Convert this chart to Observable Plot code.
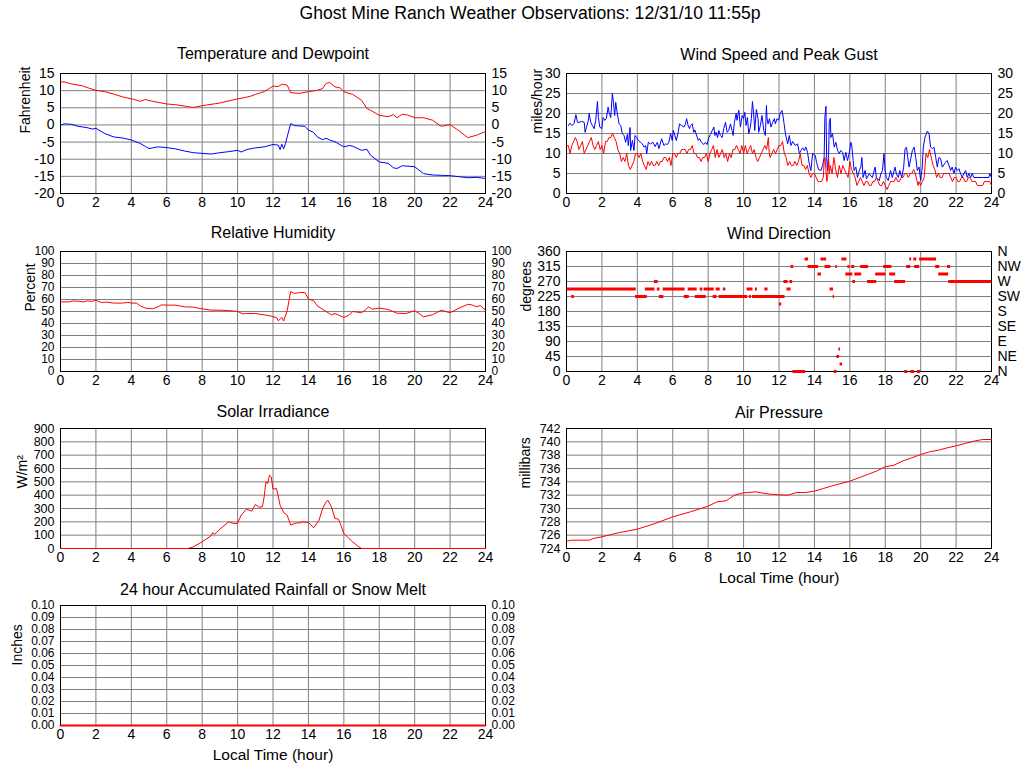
<!DOCTYPE html>
<html><head><meta charset="utf-8">
<script src="https://cdn.jsdelivr.net/npm/d3@7"></script>
<script src="https://cdn.jsdelivr.net/npm/@observablehq/plot@0.6"></script>
<style>
body{margin:0;background:#fff;font-family:"Liberation Sans",Arial,Helvetica,sans-serif;}
#page{position:relative;width:1024px;height:768px;overflow:hidden;background:#fff;}
#title{position:absolute;left:18px;width:1024px;top:5px;text-align:center;font-size:17.6px;line-height:17px;color:#000;}
.panel{position:absolute;}
</style></head><body>
<div id="page"><div id="title">Ghost Mine Ranch Weather Observations: 12/31/10 11:55p</div></div>
<script>
// ---------- data (hour, value) ----------
const hourTicks = [0,2,4,6,8,10,12,14,16,18,20,22,24];
const tempTicks = [-20,-15,-10,-5,0,5,10,15];
const speedTicks = [0,5,10,15,20,25,30];
const humTicks = [0,10,20,30,40,50,60,70,80,90,100];
const dirTicks = [0,45,90,135,180,225,270,315,360];
const dirTickLabels = ["N","NE","E","SE","S","SW","W","NW","N"];
const solarTicks = [0,100,200,300,400,500,600,700,800,900];
const pressTicks = [724,726,728,730,732,734,736,738,740,742];
const rainTicks = [0,0.01,0.02,0.03,0.04,0.05,0.06,0.07,0.08,0.09,0.10];

const temperature = [[0,12.6],[0.25,12.5],[0.5,12.1],[1,11.6],[1.25,11.4],[1.5,10.9],[2,10.1],[2.25,9.9],[2.5,9.7],[3,9.0],[3.25,8.6],[3.5,8.2],[3.75,7.9],[4,7.6],[4.25,7.3],[4.5,6.9],[4.8,7.4],[5,7.1],[5.5,6.6],[6,6.1],[6.25,6.0],[6.5,5.9],[6.75,5.7],[7,5.5],[7.25,5.3],[7.5,5.1],[8,5.6],[8.25,5.8],[8.5,6.0],[8.75,6.2],[9,6.4],[9.25,6.7],[9.5,7.0],[9.75,7.3],[10,7.6],[10.25,7.8],[10.5,8.1],[10.75,8.4],[11,8.9],[11.25,9.3],[11.5,9.7],[11.75,10.5],[12,11.3],[12.3,11.2],[12.5,11.9],[12.8,11.6],[13,9.4],[13.5,9.2],[14,9.7],[14.5,10.1],[14.8,10.6],[15,12.1],[15.2,12.4],[15.5,11.1],[15.8,10.8],[16,9.7],[16.5,8.9],[17,7.2],[17.3,4.8],[17.5,4.3],[18,2.8],[18.5,2.4],[18.8,3.0],[19,2.1],[19.3,3.1],[19.6,2.9],[20,2.1],[20.5,2.1],[21,1.4],[21.5,-0.4],[22,0.1],[22.5,-1.7],[23,-3.7],[23.5,-3.0],[24,-1.9]];

const dewpoint = [[0,-0.1],[0.2,0.3],[0.6,0.2],[1,-0.4],[1.5,-0.8],[1.8,-1.2],[2,-1.0],[2.5,-2.5],[3,-3.5],[3.5,-3.8],[4,-4.4],[4.5,-5.4],[4.8,-6.3],[5,-6.9],[5.5,-6.4],[6,-6.6],[6.5,-7.0],[7,-7.6],[7.5,-8.1],[8,-8.3],[8.5,-8.5],[9,-8.1],[9.5,-7.8],[10,-7.4],[10.2,-7.9],[10.5,-7.2],[11,-6.7],[11.5,-6.4],[12,-5.7],[12.3,-5.9],[12.4,-7.2],[12.5,-5.6],[12.6,-7.0],[12.7,-5.5],[12.8,-3.5],[13,0.4],[13.2,-0.2],[13.5,-0.3],[13.8,-0.4],[14,-1.5],[14.3,-2.2],[14.5,-3.5],[14.8,-4.3],[15,-3.9],[15.2,-4.4],[15.5,-4.9],[16,-6.4],[16.3,-6.0],[16.5,-6.2],[17,-7.4],[17.3,-7.1],[17.5,-8.8],[18,-10.8],[18.5,-11.2],[18.8,-12.5],[19,-12.7],[19.3,-11.9],[20,-12.2],[20.5,-14.2],[21,-14.6],[21.5,-14.7],[22,-14.8],[22.5,-15.1],[23,-15.4],[23.5,-15.3],[24,-15.6]];

const windGust = [[0.11,17],[0.19,17.6],[0.3,17],[0.43,17.5],[0.53,19.7],[0.62,17.8],[0.71,17.8],[0.86,18],[1.0,17.8],[1.05,15.3],[1.13,16.6],[1.24,18.3],[1.28,20],[1.37,17.8],[1.46,17],[1.56,16.2],[1.65,18.3],[1.75,23],[1.8,19],[1.88,16.6],[1.99,16.2],[2.07,19],[2.16,18.3],[2.25,18.7],[2.35,21.6],[2.4,20.3],[2.5,19],[2.59,25],[2.65,22.8],[2.72,19.5],[2.78,22.8],[2.87,19.9],[2.97,17.4],[3.06,17],[3.15,15],[3.25,14.5],[3.34,12.8],[3.44,14.8],[3.49,12],[3.59,16.5],[3.62,10.75],[3.72,13.25],[3.81,10.75],[3.87,14.5],[3.96,14],[4.06,13.25],[4.19,12.8],[4.28,12.4],[4.38,11.6],[4.47,12],[4.53,10],[4.62,12.8],[4.75,12.4],[4.88,12.8],[5.0,11.75],[5.13,12.8],[5.22,11.2],[5.37,13.7],[5.5,12],[5.6,12.4],[5.69,12.25],[5.78,12.8],[5.88,15],[5.97,13.25],[6.03,15.75],[6.12,14.5],[6.2,13.25],[6.31,15.3],[6.38,17.4],[6.5,17],[6.63,16.6],[6.72,17.4],[6.78,18.7],[6.87,17],[6.95,16.2],[7.0,17],[7.1,17.4],[7.19,15.3],[7.25,15.9],[7.32,14.9],[7.44,13.25],[7.51,13.7],[7.62,12.8],[7.76,12.25],[7.85,12.8],[7.94,12.25],[8.04,14],[8.13,14.8],[8.23,15.75],[8.32,16.6],[8.38,14.5],[8.45,15.3],[8.53,14],[8.6,15.75],[8.69,14.5],[8.79,14],[8.88,16.2],[8.98,17.8],[9.07,15.3],[9.16,15.75],[9.26,17.4],[9.35,15.75],[9.41,14.5],[9.48,17.8],[9.58,20],[9.63,18.3],[9.73,20.8],[9.82,16.6],[9.92,19.5],[10.0,18.7],[10.07,20.3],[10.14,17],[10.22,19],[10.29,15],[10.38,16.6],[10.44,18.7],[10.5,23],[10.57,19.9],[10.63,15.75],[10.72,21],[10.82,18.7],[10.85,15.3],[10.95,17],[11.04,19.5],[11.14,15.75],[11.23,14.5],[11.29,22],[11.32,19],[11.38,17.4],[11.46,18.7],[11.55,16.6],[11.64,17.8],[11.74,18.7],[11.79,17.4],[11.89,18.7],[11.98,18.3],[12.06,20],[12.17,20.75],[12.24,19],[12.36,15],[12.49,12.4],[12.58,14.5],[12.68,12],[12.77,13],[12.92,12],[13.05,12.4],[13.15,10],[13.24,10.75],[13.33,11.4],[13.43,10.75],[13.52,11.6],[13.61,10.3],[13.71,7.4],[13.8,5.75],[13.9,10],[14.05,9.5],[14.12,7.8],[14.23,6],[14.37,5.75],[14.46,7],[14.55,9],[14.59,19],[14.65,21.8],[14.69,9],[14.74,5.75],[14.8,9.5],[14.84,18],[14.9,18.8],[14.93,14],[15.02,15],[15.12,11.6],[15.21,12.8],[15.31,10.75],[15.4,10],[15.49,10.75],[15.59,10.3],[15.68,8.25],[15.77,10.3],[15.87,8.25],[15.96,10],[16.06,12.8],[16.11,12],[16.19,8.25],[16.24,5.75],[16.34,6.6],[16.43,4],[16.53,5.75],[16.62,6.6],[16.68,9],[16.75,4],[16.86,5.75],[16.94,3.7],[17.09,4.9],[17.27,4],[17.43,6.6],[17.5,4],[17.66,3.25],[17.75,4.9],[17.84,5.75],[17.93,10],[17.99,5.75],[18.06,4],[18.17,3.25],[18.3,5.75],[18.4,4],[18.55,6.6],[18.63,4.9],[18.74,4],[18.82,5.75],[18.93,4],[19.04,6.6],[19.12,11.2],[19.2,11.6],[19.27,9],[19.35,6.6],[19.44,8.7],[19.53,10.75],[19.63,11.6],[19.72,9],[19.81,5.75],[19.91,6.6],[20.0,3.25],[20.09,6.6],[20.15,11.6],[20.24,14],[20.38,15.6],[20.47,15],[20.56,11.6],[20.66,11.2],[20.75,11.6],[20.85,9],[20.94,6.6],[21.03,9],[21.13,8.7],[21.22,6.6],[21.41,7.8],[21.5,8.25],[21.6,7],[21.69,5.75],[21.78,6.6],[21.88,5],[21.97,6.6],[22.07,5.75],[22.16,6.2],[22.25,5],[22.35,4],[22.44,5],[22.54,5.75],[22.63,4],[22.72,5],[22.82,4],[22.91,5],[23.0,4],[23.47,4],[23.85,4],[23.9,5],[24,4]];

const windSpeed = [[0,12],[0.1,12],[0.2,10],[0.3,12],[0.4,13],[0.5,14],[0.6,13],[0.7,11],[0.8,12],[0.9,13],[1.0,10],[1.1,11],[1.2,12],[1.3,13],[1.4,14],[1.5,12],[1.6,11],[1.7,12],[1.8,13],[1.9,11],[2.0,12],[2.1,10],[2.2,13],[2.3,13],[2.4,14],[2.5,14],[2.6,15],[2.7,14],[2.8,13],[2.9,11],[3.0,10],[3.1,8],[3.2,9],[3.3,8],[3.4,10],[3.5,7],[3.6,6],[3.7,7],[3.8,8],[3.9,10],[4.0,10],[4.1,9],[4.2,10],[4.3,8],[4.4,7],[4.5,6],[4.6,8],[4.7,7],[4.8,8],[4.9,7],[5.0,7],[5.1,8],[5.2,7],[5.3,8],[5.4,8],[5.5,9],[5.6,9],[5.7,8],[5.8,9],[5.9,7],[6.0,10],[6.1,10],[6.2,9],[6.3,10],[6.4,10],[6.5,11],[6.6,11],[6.7,11],[6.8,10],[6.9,11],[7.0,11],[7.1,12],[7.2,10],[7.3,10],[7.4,9],[7.5,9],[7.6,8],[7.7,9],[7.8,9],[7.9,10],[8.0,8],[8.1,10],[8.2,11],[8.3,12],[8.4,9],[8.5,11],[8.6,9],[8.7,10],[8.8,11],[8.9,9],[9.0,10],[9.1,8],[9.2,10],[9.3,9],[9.4,11],[9.5,11],[9.6,12],[9.7,11],[9.8,10],[9.9,12],[10.0,10],[10.1,12],[10.2,10],[10.3,11],[10.4,12],[10.5,10],[10.6,11],[10.7,9],[10.8,8],[10.9,9],[11.0,10],[11.1,11],[11.2,12],[11.3,11],[11.4,14],[11.45,10],[11.5,9],[11.6,10],[11.7,11],[11.8,10],[11.9,11],[12.0,12],[12.1,12],[12.2,13],[12.3,10],[12.4,9],[12.5,7],[12.6,8],[12.7,7],[12.8,7],[12.9,8],[13.0,7],[13.1,8],[13.2,10],[13.3,7],[13.4,7],[13.5,6],[13.6,7],[13.7,5],[13.8,4],[13.9,5],[14.0,5],[14.1,4],[14.2,3],[14.3,3],[14.4,3],[14.5,4],[14.55,8],[14.6,9],[14.65,6],[14.7,3],[14.75,4],[14.8,9],[14.85,5],[14.9,7],[15.0,5],[15.1,9],[15.2,6],[15.3,4],[15.4,7],[15.5,5],[15.6,7],[15.7,6],[15.8,5],[15.9,4],[16.0,8],[16.1,6],[16.2,5],[16.3,4],[16.4,2],[16.5,3],[16.6,4],[16.7,3],[16.8,2],[16.9,3],[17.0,3],[17.1,2],[17.2,2],[17.3,3],[17.4,3],[17.5,4],[17.6,3],[17.7,2],[17.8,2],[17.9,3],[18.0,2],[18.1,1],[18.2,2],[18.3,3],[18.4,3],[18.5,3],[18.6,4],[18.7,3],[18.8,3],[18.9,4],[19.0,4],[19.1,5],[19.2,5],[19.3,4],[19.4,5],[19.5,5],[19.6,6],[19.7,5],[19.8,3],[19.85,2],[19.9,3],[20.0,2],[20.1,3],[20.2,4],[20.3,10],[20.4,9],[20.5,11],[20.6,9],[20.7,7],[20.8,6],[20.9,4],[21.0,5],[21.1,4],[21.2,4],[21.3,5],[21.4,5],[21.5,5],[21.6,5],[21.7,4],[21.8,3],[21.9,4],[22.0,4],[22.1,3],[22.2,3],[22.3,4],[22.4,4],[22.5,3],[22.6,3],[22.7,4],[22.8,4],[22.9,3],[23.0,3],[23.1,3],[23.2,2],[23.3,2],[23.4,2],[23.5,2],[23.6,3],[23.7,3],[23.8,3],[23.9,3],[24.0,2]];

const humidity = [[0,58],[0.5,58],[0.7,58.8],[1,58.6],[1.3,58],[1.5,58.8],[1.8,58.5],[2,59.4],[2.3,57.5],[2.6,57.8],[3,57],[3.5,57],[3.8,57.6],[4,57],[4.3,57],[4.5,54.7],[4.8,52.8],[5.2,52.2],[5.5,53.9],[5.7,55.5],[6,55.3],[6.5,55.3],[6.8,54.5],[7,53.9],[7.5,53.6],[8,52.2],[8.5,51.1],[9,51.1],[9.5,50.8],[10,50],[10.3,48],[10.5,48.3],[11,48.3],[11.5,47.2],[11.8,46.5],[12,45.6],[12.2,45],[12.3,42.2],[12.5,45],[12.6,42],[12.8,50.6],[13,66.7],[13.2,65],[13.5,65.8],[13.8,65.8],[14,60.3],[14.3,59],[14.5,54.7],[15,50],[15.3,47.2],[15.5,48.3],[15.7,47],[16,45],[16.3,47],[16.5,50],[17,49],[17.2,51],[17.4,53.9],[17.6,51.9],[18,52.8],[18.5,51.7],[19,48.6],[19.5,48.3],[20,50.6],[20.2,48.8],[20.5,45.6],[21,47.2],[21.5,51.1],[22,48.9],[22.5,52.8],[23,56],[23.2,55.6],[23.5,53.9],[23.7,55],[24,51.1]];

// wind direction runs: [start hour, end hour, degrees]
const windDirection = [[0.06,3.94,247.5],[0.3,0.45,225],[3.9,4.56,225],[4.45,5.0,247.5],[4.96,5.18,270],[5.13,5.28,247.5],[5.24,5.5,225],[5.46,6.7,247.5],[6.65,6.93,225],[6.87,7.38,247.5],[7.27,7.89,225],[7.55,7.7,247.5],[7.77,8.34,247.5],[8.28,8.5,225],[8.45,8.68,247.5],[8.86,9.0,247.5],[8.62,10.23,225],[10.2,10.53,247.5],[10.33,10.44,225],[10.5,12.34,225],[10.67,10.78,247.5],[11.2,11.38,247.5],[12.02,12.15,202.5],[12.45,12.68,247.5],[12.28,12.51,270],[12.62,12.77,270],[12.68,12.83,315],[12.79,13.5,0],[13.47,13.67,337.5],[13.64,14.24,315],[14.2,14.4,292.5],[14.37,14.69,337.5],[14.6,14.93,315],[14.88,15.08,247.5],[15.06,15.14,225],[15.21,15.3,315],[15.12,15.27,0],[15.27,15.42,45],[15.38,15.47,67.5],[15.45,15.59,22.5],[15.55,15.83,337.5],[15.77,16.17,292.5],[15.89,16.0,315],[16.1,16.28,315],[16.17,16.32,270],[16.28,16.67,292.5],[16.61,17.06,315],[17.0,17.52,270],[17.46,18.03,292.5],[17.91,18.37,315],[18.25,18.59,292.5],[18.53,19.15,270],[19.1,19.27,0],[19.21,19.44,315],[19.38,19.49,337.5],[19.61,19.78,337.5],[19.44,19.66,0],[19.66,19.94,315],[19.83,20.0,0],[19.94,20.9,337.5],[20.85,21.07,315],[21.02,21.58,292.5],[21.52,21.69,315],[21.58,24,270]];

const solar = [[0,0],[7.2,0],[7.5,12],[8,50],[8.5,95],[8.6,120],[8.7,105],[9,145],[9.5,200],[9.8,187],[10,190],[10.2,250],[10.5,295],[10.8,280],[11,330],[11.2,310],[11.4,312],[11.5,387],[11.6,500],[11.7,487],[11.8,550],[11.9,537],[12,445],[12.2,450],[12.4,325],[12.6,270],[12.8,250],[13,175],[13.3,192],[13.5,192],[13.7,200],[14,195],[14.3,155],[14.6,212],[14.8,300],[15,350],[15.1,362],[15.3,312],[15.5,225],[15.7,220],[15.8,187],[16,112],[16.2,87],[16.5,50],[16.8,17],[17,0],[24,0]];

const pressure = [[0,725.1],[0.3,725.25],[1.3,725.25],[1.5,725.5],[2,725.75],[3,726.4],[4,726.9],[5,727.75],[6,728.75],[7,729.5],[8,730.35],[8.5,731],[9,731.15],[9.5,732],[10,732.35],[10.7,732.5],[11,732.35],[11.5,732.15],[12,732.05],[12.5,732],[12.8,732.25],[13,732.4],[13.5,732.4],[14,732.6],[14.5,733],[15,733.4],[15.5,733.75],[16,734.1],[16.5,734.6],[17,735.1],[17.5,735.6],[18,736.25],[18.5,736.5],[19,737.15],[19.5,737.6],[20,738.1],[20.5,738.5],[21,738.75],[21.5,739.1],[22,739.4],[22.5,739.75],[23,740.1],[23.5,740.35],[24,740.35]];

const rainfall = [[0,0],[24,0]];

// ---------- drawing ----------
const GRID = "#808080";
const page = document.getElementById("page");
const hx = d => d[0], vy = d => d[1];

function drawPanel(o) {
  const W = o.col === 0 ? 560 : 512;
  const mL = o.col === 0 ? 60 : 54;
  const mR = W - mL - 425;
  const mT = 30, mB = 45, fH = 120;
  const fmt = o.yFormat || (d => String(d));
  const tickFont = o.tickFont || 14;
  const marks = [
    Plot.ruleX(hourTicks, {x: d => d, stroke: GRID, strokeWidth: 1}),
    Plot.ruleY(o.yTicks, {y: d => d, stroke: GRID, strokeWidth: 1}),
    Plot.frame({stroke: "black", strokeWidth: 1}),
    Plot.axisX(hourTicks, {tickSize: 0, tickPadding: 4, tickFormat: d => String(d), label: null, fontSize: 14}),
    Plot.axisY(o.yTicks, {anchor: "left", tickSize: 0, tickPadding: 6, tickFormat: fmt, label: null, fontSize: tickFont})
  ];
  if (o.rightFormat) marks.push(Plot.axisY(o.yTicks, {anchor: "right", tickSize: 0, tickPadding: 6, tickFormat: o.rightFormat, label: null, fontSize: tickFont}));
  marks.push(Plot.text([o.title], {frameAnchor: "top", dy: -o.titleGap, lineAnchor: "bottom", fontSize: 16, text: d => d}));
  marks.push(Plot.text([o.yLabel], {frameAnchor: "left", rotate: -90, dx: o.yLabelDx, fontSize: 14, text: d => d}));
  if (o.xLabel) marks.push(Plot.text([o.xLabel], {frameAnchor: "bottom", dy: 34, lineAnchor: "bottom", fontSize: 15.5, text: d => d}));
  marks.push(...o.marks);
  const svg = Plot.plot({
    width: W, height: mT + fH + mB,
    marginLeft: mL, marginRight: mR, marginTop: mT, marginBottom: mB,
    x: {domain: [0, 24]},
    y: {domain: o.yDomain},
    style: {fontSize: "14px", fontFamily: '"Liberation Sans", Arial, Helvetica, sans-serif', background: "transparent", overflow: "visible", color: "#000"},
    marks
  });
  const div = document.createElement("div");
  div.className = "panel";
  div.style.left = (o.col === 0 ? 0 : 512) + "px";
  div.style.top = (o.frameTop - mT) + "px";
  div.appendChild(svg);
  page.appendChild(div);
}

const same = d => String(d);

drawPanel({col: 0, frameTop: 73, titleGap: 15, title: "Temperature and Dewpoint", yLabel: "Fahrenheit", yLabelDx: -35,
  yDomain: [-20, 15], yTicks: tempTicks, rightFormat: same,
  marks: [Plot.line(temperature, {x: hx, y: vy, stroke: "#ff0000", strokeWidth: 1}),
          Plot.line(dewpoint, {x: hx, y: vy, stroke: "#0000ff", strokeWidth: 1})]});

drawPanel({col: 1, frameTop: 73, titleGap: 14, title: "Wind Speed and Peak Gust", yLabel: "miles/hour", yLabelDx: -29,
  yDomain: [0, 30], yTicks: speedTicks, rightFormat: same,
  marks: [Plot.line(windGust, {x: hx, y: vy, stroke: "#0000ff", strokeWidth: 1}),
          Plot.line(windSpeed, {x: hx, y: vy, stroke: "#ff0000", strokeWidth: 1})]});

drawPanel({col: 0, frameTop: 251, titleGap: 14, title: "Relative Humidity", yLabel: "Percent", yLabelDx: -30,
  yDomain: [0, 100], yTicks: humTicks, rightFormat: same, tickFont: 12,
  marks: [Plot.line(humidity, {x: hx, y: vy, stroke: "#ff0000", strokeWidth: 1})]});

drawPanel({col: 1, frameTop: 251, titleGap: 13, title: "Wind Direction", yLabel: "degrees", yLabelDx: -40,
  yDomain: [0, 360], yTicks: dirTicks, rightFormat: d => dirTickLabels[dirTicks.indexOf(d)],
  marks: [Plot.ruleY(windDirection, {x1: d => d[0], x2: d => d[1], y: d => d[2], stroke: "#ff0000", strokeWidth: 3})]});

drawPanel({col: 0, frameTop: 428, titleGap: 12, title: "Solar Irradiance", yLabel: "W/m²", yLabelDx: -38,
  yDomain: [0, 900], yTicks: solarTicks, tickFont: 12.5,
  marks: [Plot.line(solar, {x: hx, y: vy, stroke: "#ff0000", strokeWidth: 1})]});

drawPanel({col: 1, frameTop: 428, titleGap: 11, title: "Air Pressure", yLabel: "millibars", yLabelDx: -41,
  yDomain: [724, 742], yTicks: pressTicks, xLabel: "Local Time (hour)", tickFont: 12.5,
  marks: [Plot.line(pressure, {x: hx, y: vy, stroke: "#ff0000", strokeWidth: 1})]});

drawPanel({col: 0, frameTop: 605, titleGap: 11, title: "24 hour Accumulated Rainfall or Snow Melt", yLabel: "Inches", yLabelDx: -43,
  yDomain: [0, 0.1], yTicks: rainTicks, yFormat: d => d.toFixed(2), rightFormat: d => d.toFixed(2), xLabel: "Local Time (hour)", tickFont: 12,
  marks: [Plot.line(rainfall, {x: hx, y: vy, stroke: "#ff0000", strokeWidth: 2})]});
</script>
</body></html>
